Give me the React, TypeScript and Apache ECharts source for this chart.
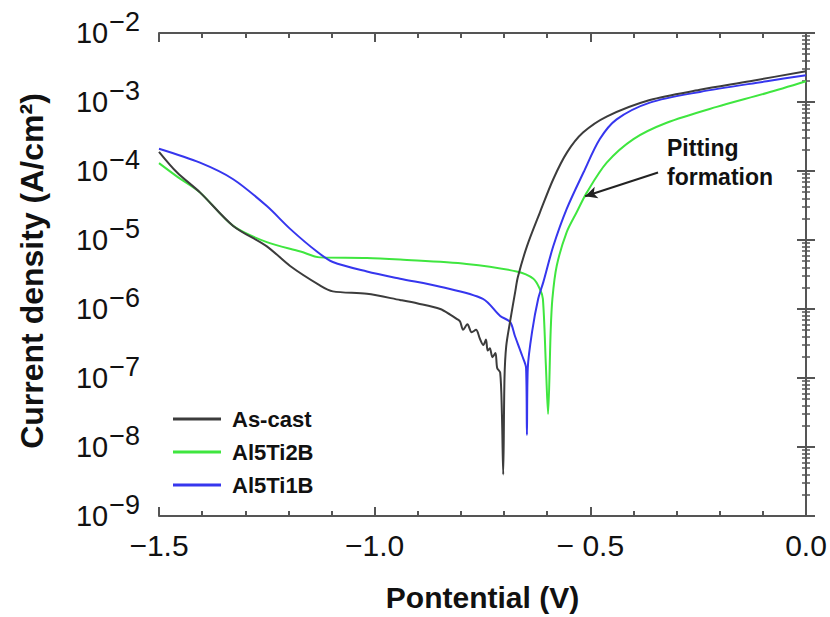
import React, { useEffect, useRef } from "react";
import * as echarts from "echarts";

// ---------- data ----------
const seriesNames = ["As-cast", "Al5Ti2B", "Al5Ti1B"];

const asCastPotential = [
  -1.5, -1.458, -1.405, -1.328, -1.25, -1.196, -1.127, -1.097, -1.018, -0.941, -0.9,
  -0.848, -0.825, -0.81, -0.802, -0.795, -0.785, -0.775, -0.765, -0.756, -0.748, -0.742,
  -0.738, -0.733, -0.727, -0.72, -0.716, -0.709, -0.705, -0.702, -0.699, -0.695, -0.686,
  -0.674, -0.668, -0.647, -0.617, -0.586, -0.554, -0.517, -0.461, -0.362, -0.246, -0.13, 0,
];
const asCastCurrent = [
  1.9e-4, 9.5e-5, 4.9e-5, 1.6e-5, 8.1e-6, 4.2e-6, 2.2e-6, 1.8e-6, 1.66e-6, 1.35e-6, 1.2e-6,
  1.0e-6, 8.3e-7, 7.2e-7, 6.6e-7, 5.0e-7, 6.0e-7, 4.6e-7, 5.0e-7, 3.7e-7, 3.0e-7, 3.6e-7,
  2.5e-7, 2.7e-7, 2.0e-7, 2.3e-7, 1.4e-7, 1.2e-7, 3.0e-8, 4.0e-9, 1.0e-7, 2.9e-7, 6.6e-7,
  1.8e-6, 2.9e-6, 8.1e-6, 2.5e-5, 7.6e-5, 1.86e-4, 3.6e-4, 6.2e-4, 1.07e-3, 1.5e-3, 2.0e-3, 2.8e-3,
];

const ti2bPotential = [
  -1.5, -1.458, -1.405, -1.328, -1.25, -1.172, -1.127, -1.018, -0.941, -0.787, -0.671,
  -0.632, -0.617, -0.61, -0.603, -0.598, -0.592, -0.588, -0.578, -0.555, -0.532, -0.508,
  -0.462, -0.4, -0.323, -0.207, -0.091, 0,
];
const ti2bCurrent = [
  1.3e-4, 8.3e-5, 4.9e-5, 1.6e-5, 9.3e-6, 6.8e-6, 5.6e-6, 5.5e-6, 5.2e-6, 4.5e-6, 3.5e-6,
  2.75e-6, 1.95e-6, 1.4e-6, 1.5e-7, 3.0e-8, 4.7e-7, 1.4e-6, 4.2e-6, 1.29e-5, 2.5e-5, 4.9e-5,
  1.32e-4, 2.9e-4, 5.0e-4, 8.5e-4, 1.35e-3, 2.0e-3,
];

const ti1bPotential = [
  -1.5, -1.405, -1.328, -1.25, -1.196, -1.134, -1.097, -1.018, -0.941, -0.848, -0.749,
  -0.709, -0.686, -0.675, -0.658, -0.649, -0.647, -0.645, -0.635, -0.621, -0.609, -0.586,
  -0.555, -0.516, -0.478, -0.439, -0.362, -0.246, -0.091, 0,
];
const ti1bCurrent = [
  2.1e-4, 1.32e-4, 7.6e-5, 3.1e-5, 1.45e-5, 6.8e-6, 4.8e-6, 3.5e-6, 2.75e-6, 2.1e-6, 1.4e-6,
  7.9e-7, 6.5e-7, 4.1e-7, 2.1e-7, 1.4e-7, 1.5e-8, 1.4e-7, 4.7e-7, 1.4e-6, 2.45e-6, 8.1e-6,
  2.8e-5, 9.5e-5, 2.9e-4, 5.6e-4, 9.8e-4, 1.4e-3, 2.0e-3, 2.45e-3,
];

const xTickLabels: Record<string, string> = {
  "-1.5": "\u22121.5",
  "-1": "\u22121.0",
  "-0.5": "\u2212 0.5",
  "0": "0.0",
};

// arrow annotation: tail and head (potential, current)
const arrowTail = [-0.343, 9.5e-5];
const arrowHead = [-0.512, 4.3e-5];

const colors = ["#3c3c3c", "#3fe63f", "#3636ee"];

const zip = (xs: number[], ys: number[]) => xs.map((x, i) => [x, ys[i]]);

export default function App() {
  const ref = useRef<HTMLDivElement>(null);
  useEffect(() => {
    document.body.style.margin = "0";
    const chart = echarts.init(ref.current!, null, { renderer: "svg" });
    const font = "'Liberation Sans', Arial, sans-serif";
    const axisLine = { show: true, lineStyle: { color: "#555", width: 2 } };
    const tick = { show: true, inside: true, length: 9, lineStyle: { color: "#555", width: 2 } };
    const option: any = {
      animation: false,
      backgroundColor: "#fff",
      textStyle: { fontFamily: font },
      grid: { left: 159, top: 33, right: 24, bottom: 99 },
      legend: {
        orient: "vertical",
        left: 168,
        top: 403,
        itemWidth: 48,
        itemHeight: 3,
        itemGap: 11,
        icon: "rect",
        data: seriesNames,
        textStyle: { fontFamily: font, fontSize: 22, fontWeight: "bold", color: "#111", padding: [0, 0, 0, 6] },
      },
      xAxis: [
        {
          type: "value",
          min: -1.5,
          max: 0,
          interval: 0.5,
          name: "Pontential (V)",
          nameLocation: "middle",
          nameGap: 66,
          nameTextStyle: { fontFamily: font, fontSize: 30, fontWeight: "bold", color: "#111" },
          axisLine,
          axisTick: tick,
          minorTick: { show: true, splitNumber: 5, length: 5, lineStyle: { color: "#555", width: 2 } },
          splitLine: { show: false },
          axisLabel: {
            margin: 14,
            fontSize: 30,
            color: "#111",
            fontFamily: font,
            formatter: (v: number) => xTickLabels[String(v)] ?? String(v),
          },
        },
        {
          type: "value",
          position: "top",
          min: -1.5,
          max: 0,
          interval: 0.5,
          axisLine,
          axisTick: tick,
          minorTick: { show: true, splitNumber: 5, length: 5, lineStyle: { color: "#555", width: 2 } },
          splitLine: { show: false },
          axisLabel: { show: false },
        },
      ],
      yAxis: [
        {
          type: "log",
          logBase: 10,
          min: 1e-9,
          max: 1e-2,
          name: "Current density (A/cm\u00B2)",
          nameLocation: "middle",
          nameGap: 111,
          nameTextStyle: {
            fontFamily: font,
            fontSize: 32,
            fontWeight: "bold",
            color: "#111",
            padding: [0, 0, 0, 7],
          },
          axisLine,
          axisTick: tick,
          minorTick: { show: true, splitNumber: 9, length: 4, lineStyle: { color: "#555", width: 1.5 } },
          splitLine: { show: false },
          axisLabel: {
            margin: 19,
            color: "#111",
            formatter: (v: number) => {
              const e = Math.round(Math.log10(v));
              return `{b|10}{s|\u2212${-e}}`;
            },
            rich: {
              b: { fontSize: 29, fontFamily: font, color: "#111" },
              s: { fontSize: 27, fontFamily: font, color: "#111", padding: [0, 0, 22, 1] },
            },
          },
        },
        {
          type: "log",
          logBase: 10,
          min: 1e-9,
          max: 1e-2,
          position: "right",
          axisLine,
          axisTick: tick,
          minorTick: { show: true, splitNumber: 9, length: 4, lineStyle: { color: "#555", width: 1.5 } },
          splitLine: { show: false },
          axisLabel: { show: false },
        },
      ],
      series: [
        {
          name: seriesNames[0],
          type: "line",
          data: zip(asCastPotential, asCastCurrent),
          showSymbol: false,
          smooth: 0.3,
          lineStyle: { color: colors[0], width: 2 },
          itemStyle: { color: colors[0] },
          z: 3,
        },
        {
          name: seriesNames[1],
          type: "line",
          data: zip(ti2bPotential, ti2bCurrent),
          showSymbol: false,
          smooth: 0.3,
          lineStyle: { color: colors[1], width: 2 },
          itemStyle: { color: colors[1] },
          z: 2,
          markLine: {
            silent: true,
            symbol: ["none", "arrow"],
            symbolSize: [9, 12],
            label: { show: false },
            lineStyle: { color: "#222", width: 2, type: "solid" },
            data: [[{ coord: arrowTail }, { coord: arrowHead }]],
          },
        },
        {
          name: seriesNames[2],
          type: "line",
          data: zip(ti1bPotential, ti1bCurrent),
          showSymbol: false,
          smooth: 0.3,
          lineStyle: { color: colors[2], width: 2 },
          itemStyle: { color: colors[2] },
          z: 2,
        },
      ],
      graphic: [
        {
          type: "text",
          left: 667,
          top: 133,
          style: {
            text: "Pitting\nformation",
            font: `bold 23px ${font}`,
            fill: "#111",
            lineHeight: 29,
          },
        },
      ],
    };
    chart.setOption(option);
    return () => chart.dispose();
  }, []);
  return (
    <div
      ref={ref}
      style={{ position: "fixed", left: 0, top: 0, width: 830, height: 617 }}
    />
  );
}
